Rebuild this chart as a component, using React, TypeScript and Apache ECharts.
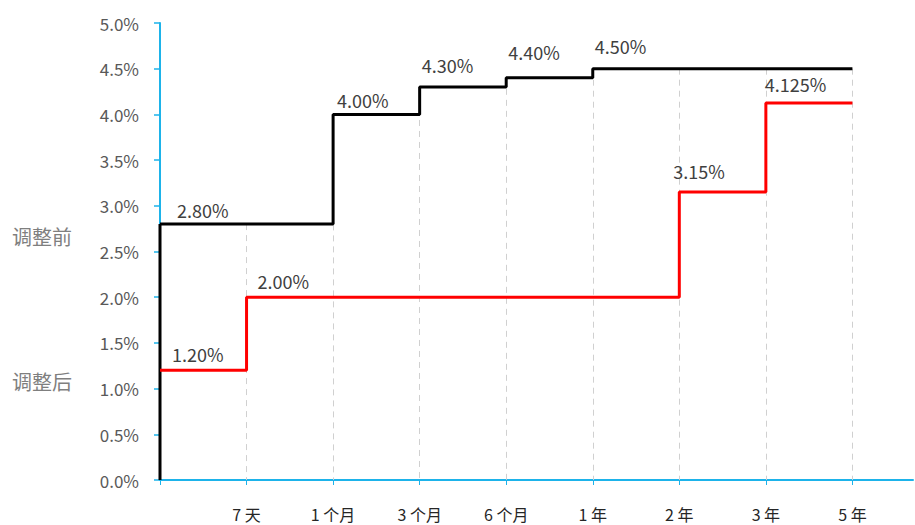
import React, { useEffect, useRef } from "react";
import * as echarts from "echarts";

// x positions: 0 = axis origin, 1..8 = tenors
const categories = ["", "7 天", "1 个月", "3 个月", "6 个月", "1 年", "2 年", "3 年", "5 年"];
// value holding from each x position to the next (step: end)
const beforeRates = [2.8, 2.8, 4.0, 4.3, 4.4, 4.5, 4.5, 4.5, 4.5];
const afterRates = [1.2, 2.0, 2.0, 2.0, 2.0, 2.0, 3.15, 4.125, 4.125];
const beforeLabels = ["2.80%", "", "4.00%", "4.30%", "4.40%", "4.50%", "", "", ""];
const afterLabels = ["1.20%", "2.00%", "", "", "", "", "3.15%", "4.125%", ""];
const yTicks = [0, 0.5, 1, 1.5, 2, 2.5, 3, 3.5, 4, 4.5, 5];
const sideLabels = ["调整前", "调整后"];

// label offsets (style, not data)
const beforeOffsets = [[17, -14], [0, 0], [4, -14], [2, -22], [2, -26], [2, -23], [0, 0], [0, 0], [0, 0]];
const afterOffsets = [[12, -16], [11, -16], [0, 0], [0, 0], [0, 0], [0, 0], [-6, -21], [-1, -19], [0, 0]];

const FONT = "'Noto Sans CJK SC', 'Noto Sans', sans-serif";
const AXIS_BLUE = "#1DB3EA";

function buildData(rates: number[], labels: string[], offsets: number[][]) {
  return rates.map((v, i) => {
    const item: any = { value: [i, v] };
    if (labels[i]) {
      item.label = {
        show: true,
        formatter: labels[i],
        position: "right",
        distance: 0,
        align: "left",
        verticalAlign: "middle",
        offset: offsets[i],
      };
    }
    return item;
  });
}

export default function App() {
  const ref = useRef<HTMLDivElement>(null);
  useEffect(() => {
    if (!ref.current) return;
    const chart = echarts.init(ref.current, null, { renderer: "svg" });
    const dropLines = categories
      .map((_, i) => i)
      .filter((i) => i > 0)
      .map((i) => [
        { coord: [i, Math.max(beforeRates[i], beforeRates[i - 1])] },
        { coord: [i, 0] },
      ]);
    const option: any = {
      animation: false,
      textStyle: { fontFamily: FONT },
      grid: { left: 160, right: 2, top: 23, bottom: 45, containLabel: false },
      xAxis: {
        type: "value",
        min: 0,
        max: 8.7,
        interval: 1,
        splitLine: { show: false },
        axisLine: { show: true, lineStyle: { color: AXIS_BLUE, width: 2 } },
        axisTick: {
          show: true,
          length: 5,
          lineStyle: { color: AXIS_BLUE, width: 1 },
          customValues: categories.map((_, i) => i),
        },
        axisLabel: {
          color: "#262626",
          fontSize: 16,
          fontFamily: FONT,
          margin: 26,
          customValues: categories.map((_, i) => i).filter((i) => i > 0),
          formatter: (v: number) => (Number.isInteger(v) ? categories[v] || "" : ""),
        },
      },
      yAxis: {
        type: "value",
        min: 0,
        max: 5,
        interval: 0.5,
        splitLine: { show: false },
        axisLine: { show: true, lineStyle: { color: AXIS_BLUE, width: 2 } },
        axisTick: { show: true, length: 6, lineStyle: { color: AXIS_BLUE, width: 1.5 } },
        axisLabel: {
          color: "#595959",
          fontSize: 17,
          fontFamily: FONT,
          margin: 21,
          formatter: (v: number) => (yTicks.includes(v) ? v.toFixed(1) + "%" : ""),
        },
      },
      graphic: [
        {
          type: "text",
          left: 12,
          top: 226,
          style: { text: sideLabels[0], fill: "#7F7F7F", font: `20px ${FONT}` },
        },
        {
          type: "text",
          left: 12,
          top: 371,
          style: { text: sideLabels[1], fill: "#7F7F7F", font: `20px ${FONT}` },
        },
      ],
      series: [
        {
          name: "调整前",
          type: "line",
          step: "end",
          data: buildData(beforeRates, beforeLabels, beforeOffsets),
          symbol: "circle",
          symbolSize: 0.01,
          showSymbol: true,
          lineStyle: { color: "#000000", width: 3 },
          itemStyle: { color: "#000000" },
          label: { color: "#404040", fontSize: 18, fontFamily: FONT },
          z: 3,
          markLine: {
            silent: true,
            symbol: "none",
            animation: false,
            label: { show: false },
            lineStyle: { color: "#D0D0D0", width: 1, type: [6, 5] },
            data: dropLines,
            z: 1,
          },
        },
        {
          name: "基线",
          type: "line",
          data: [
            [0, 0],
            [0, beforeRates[0]],
          ],
          symbol: "none",
          lineStyle: { color: "#000000", width: 3 },
          z: 3,
        },
        {
          name: "调整后",
          type: "line",
          step: "end",
          data: buildData(afterRates, afterLabels, afterOffsets),
          symbol: "circle",
          symbolSize: 0.01,
          showSymbol: true,
          lineStyle: { color: "#FF0000", width: 3 },
          itemStyle: { color: "#FF0000" },
          label: { color: "#404040", fontSize: 18, fontFamily: FONT },
          z: 4,
        },
      ],
    };
    chart.setOption(option);
    return () => chart.dispose();
  }, []);
  return (
    <div
      ref={ref}
      style={{ position: "fixed", left: 0, top: 0, width: 915, height: 525, background: "#fff" }}
    />
  );
}
